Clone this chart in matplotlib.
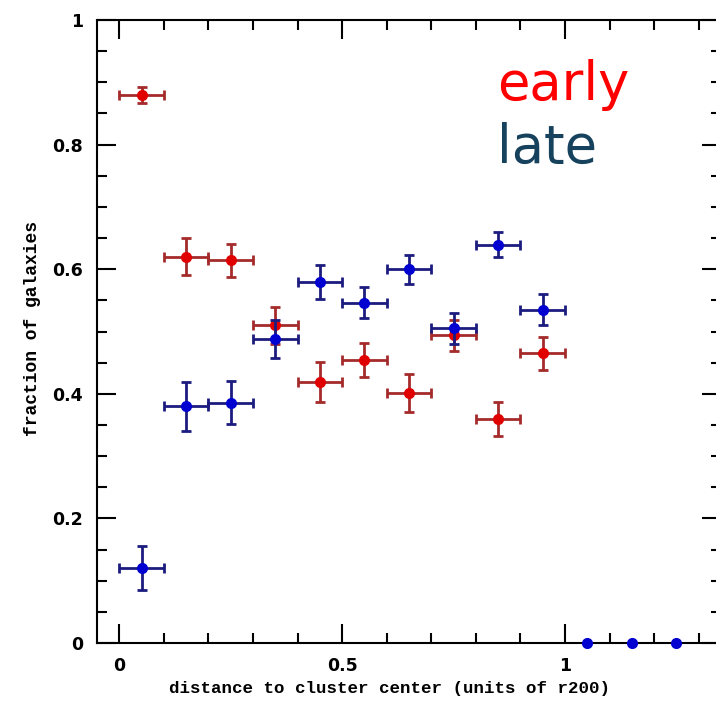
import matplotlib.pyplot as plt
from matplotlib.ticker import MultipleLocator

# distance bins (units of r200)
dist = [0.05, 0.15, 0.25, 0.35, 0.45, 0.55, 0.65, 0.75, 0.85, 0.95]
bin_half = [0.05] * 10

early_frac = [0.88, 0.62, 0.614, 0.51, 0.419, 0.454, 0.401, 0.494, 0.36, 0.465]
early_err = [0.013, 0.03, 0.027, 0.03, 0.032, 0.027, 0.03, 0.025, 0.027, 0.026]

late_frac = [0.12, 0.38, 0.386, 0.488, 0.579, 0.546, 0.60, 0.505, 0.639, 0.535]
late_err = [0.035, 0.039, 0.035, 0.03, 0.027, 0.025, 0.023, 0.025, 0.02, 0.025]

# outer bins with no galaxies
out_dist = [1.05, 1.15, 1.25]
out_frac = [0.0, 0.0, 0.0]

fig = plt.figure(figsize=(7.16, 7.02), dpi=100)
ax = fig.add_axes([97 / 716, 59 / 702, 624 / 716, 623 / 702])

ax.errorbar(dist, early_frac, yerr=early_err, xerr=bin_half, fmt='o',
            color='#e00000', ecolor='#a52a2a', elinewidth=2, capsize=3.5,
            capthick=2, markersize=7, zorder=3)
ax.errorbar(dist, late_frac, yerr=late_err, xerr=bin_half, fmt='o',
            color='#0000d0', ecolor='#1c1c80', elinewidth=2, capsize=3.5,
            capthick=2, markersize=7, zorder=4)
ax.plot(out_dist, out_frac, 'o', color='#0000d0', markersize=7, clip_on=False, zorder=5)

ax.set_xlim(-0.05, 1.35)
ax.set_ylim(0, 1)

ax.xaxis.set_major_locator(MultipleLocator(0.5))
ax.xaxis.set_minor_locator(MultipleLocator(0.1))
ax.yaxis.set_major_locator(MultipleLocator(0.2))
ax.yaxis.set_minor_locator(MultipleLocator(0.05))
ax.tick_params(which='both', direction='in', top=True, right=True, width=1.5)
ax.tick_params(which='major', length=14, pad=10)
ax.tick_params(which='minor', length=7)

ax.set_xticklabels([f'{v:g}' for v in ax.get_xticks()])
ax.set_yticklabels([f'{v:g}' for v in ax.get_yticks()])
for lab in ax.get_xticklabels() + ax.get_yticklabels():
    lab.set_fontfamily('DejaVu Sans')
    lab.set_fontweight('bold')
    lab.set_fontsize(12.5)

for s in ax.spines.values():
    s.set_linewidth(1.5)

# axis titles (typewriter style)
fig.text(389 / 716, 1 - 689 / 702, 'distance to cluster center (units of r200)',
         family='Liberation Mono', fontweight='bold', fontsize=12.6,
         ha='center', va='center')
fig.text(33 / 716, 1 - 329 / 702, 'fraction of galaxies', rotation=90,
         family='Liberation Mono', fontweight='bold', fontsize=13,
         ha='center', va='center')

fig.text(497 / 716, 1 - 100 / 702, 'early', color='#ff0000', fontsize=38,
         family='DejaVu Sans', va='baseline')
fig.text(497 / 716, 1 - 163 / 702, 'late', color='#17425e', fontsize=38,
         family='DejaVu Sans', va='baseline')

fig.savefig('out.png', dpi=100)
